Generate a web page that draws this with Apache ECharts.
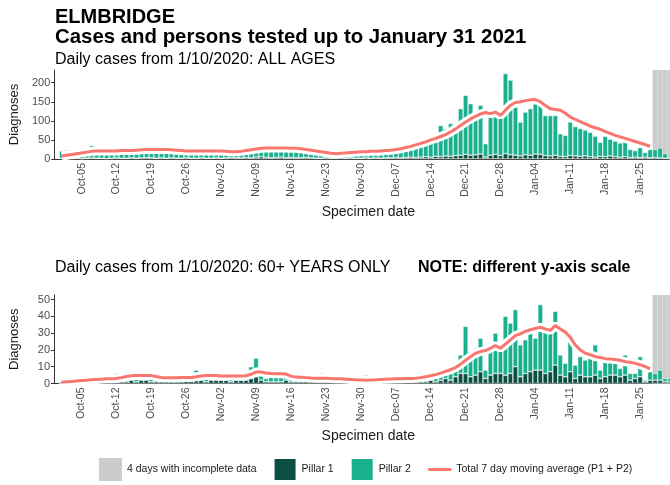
<!DOCTYPE html>
<html>
<head>
<meta charset="utf-8">
<script src="https://cdn.jsdelivr.net/npm/echarts@6/dist/echarts.min.js"></script>
<style>
  html, body { margin: 0; padding: 0; overflow: hidden; background: #fff; }
  #chart { width: 700px; height: 485px; }
</style>
</head>
<body>
<div id="chart"></div>
<script>
// Daily diagnoses by specimen date, Oct 1 2020 – Jan 31 2021 (one value per day)
const allAgesTotal = [
  21, 23, 9, 12, 14, 11, 35, 14, 22, 18,
  20, 24, 22, 17, 26, 24, 28, 27, 25, 30,
  22, 24, 20, 27, 21, 18, 26, 19, 28, 17,
  19, 22, 17, 21, 16, 20, 18, 28, 30, 37,
  26, 30, 27, 40, 28, 32, 24, 25, 30, 18,
  17, 12, 14, 15, 13, 18, 16, 20, 14, 19,
  17, 31, 18, 16, 24, 22, 33, 25, 28, 42,
  38, 46, 44, 52, 60, 62, 88, 79, 93, 90,
  132, 167, 145, 120, 141, 40, 118, 125, 112, 224,
  207, 136, 97, 123, 132, 145, 141, 114, 114, 114,
  66, 62, 97, 85, 80, 76, 70, 60, 44, 60,
  52, 47, 42, 47, 25, 22, 30, 17, 25, 25,
  29, 14, 4
];
const allAgesPillar1 = [
  2, 1, 1, 2, 1, 2, 3, 2, 2, 1,
  2, 3, 2, 2, 3, 2, 3, 4, 3, 2,
  3, 2, 3, 2, 2, 3, 2, 2, 3, 2,
  2, 3, 2, 3, 4, 3, 3, 4, 3, 5,
  6, 4, 3, 4, 5, 3, 4, 3, 3, 4,
  3, 2, 2, 3, 2, 2, 3, 2, 3, 2,
  2, 3, 2, 3, 2, 3, 3, 4, 3, 4,
  5, 4, 5, 6, 5, 7, 6, 8, 7, 9,
  10, 12, 10, 11, 13, 5, 10, 12, 9, 14,
  11, 10, 8, 11, 10, 13, 12, 9, 8, 10,
  7, 6, 9, 8, 7, 8, 6, 5, 7, 6,
  8, 6, 5, 6, 4, 5, 4, 5, 3, 4,
  3, 2, 1
];
// 7 day moving average (Pillar 1 + Pillar 2), Oct 1 – Jan 27
const allAgesAvg = [
  8, 10, 12, 14, 16, 18, 20, 21, 21, 21,
  21, 21, 22, 22, 22, 23, 24, 25, 25, 25,
  25, 25, 24, 23, 22, 21, 21, 21, 21, 21,
  21, 21, 21, 20, 19, 19, 20, 22, 24, 26,
  28, 29, 29, 29, 29, 29, 28, 28, 27, 25,
  23, 21, 19, 17, 15, 14, 15, 16, 17, 18,
  19, 19, 20, 20, 21, 22, 23, 25, 27, 30,
  33, 37, 41, 45, 50, 54, 59, 64, 71, 79,
  88, 97, 105, 112, 118, 122, 119, 123, 114, 128,
  141, 148, 150, 153, 155, 156, 150, 140, 132, 130,
  128, 120, 110, 104, 98, 92, 86, 82, 78, 72,
  67, 62, 58, 54, 50, 46, 42, 38, 33
];

const over60Total = [
  1, 1, 2, 1, 2, 1, 2, 2, 3, 2,
  3, 6, 6, 3, 6, 4, 4, 5, 4, 4,
  6, 3, 3, 6, 3, 3, 4, 8, 4, 3,
  5, 4, 4, 4, 7, 5, 4, 5, 10, 15,
  9, 3, 5, 4, 4, 7, 7, 3, 4, 3,
  3, 3, 6, 3, 3, 2, 3, 3, 2, 2,
  2, 5, 2, 2, 2, 3, 3, 2, 3, 3,
  3, 3, 6, 4, 6, 5, 5, 8, 8, 12,
  17, 34, 19, 21, 27, 8, 20, 30, 23, 40,
  36, 44, 23, 26, 30, 27, 47, 31, 30, 43,
  17, 12, 28, 11, 16, 14, 15, 23, 8, 13,
  13, 13, 9, 17, 6, 6, 16, 2, 7, 6,
  8, 3, 3
];
const over60Pillar1 = [
  0, 0, 1, 0, 1, 0, 1, 1, 1, 1,
  1, 1, 1, 1, 2, 1, 2, 2, 1, 1,
  1, 1, 1, 1, 1, 2, 2, 2, 2, 1,
  2, 2, 2, 2, 1, 2, 2, 2, 3, 4,
  2, 1, 1, 1, 1, 2, 1, 1, 1, 1,
  1, 1, 1, 1, 1, 1, 1, 1, 1, 1,
  1, 1, 1, 1, 1, 1, 1, 1, 1, 1,
  1, 1, 1, 1, 2, 1, 2, 3, 2, 4,
  6, 6, 4, 5, 7, 3, 5, 6, 6, 5,
  6, 10, 4, 6, 7, 8, 8, 6, 7, 11,
  5, 4, 7, 3, 5, 4, 4, 5, 3, 4,
  5, 5, 4, 5, 2, 3, 4, 1, 2, 2,
  2, 1, 1
];
const over60Avg = [
  0.8, 1.0, 1.2, 1.5, 1.8, 2.0, 2.2, 2.4, 2.6, 2.8,
  2.8, 3.0, 3.5, 4.2, 4.6, 4.8, 4.8, 4.8, 4.7, 4.2,
  3.6, 3.4, 3.4, 3.4, 3.5, 3.5, 3.6, 4.0, 4.5, 4.8,
  4.8, 4.7, 4.5, 4.4, 4.4, 4.4, 4.5, 4.6, 5.5, 6.8,
  6.8, 6.3, 5.9, 5.8, 5.8, 5.6, 4.4, 3.8, 3.7, 3.5,
  3.3, 3.2, 3.2, 3.2, 3.0, 2.9, 2.8, 2.6, 2.4, 2.2,
  2.1, 2.0, 2.1, 2.2, 2.4, 2.6, 2.7, 2.8, 2.9, 3.0,
  3.0, 3.1, 3.5, 4.0, 4.6, 5.3, 6.2, 7.2, 8.2, 9.5,
  11.5, 13.8, 16.0, 18.0, 19.0, 19.6, 21.0, 22.6, 21.0, 23.5,
  26.0, 28.5, 29.6, 31.0, 32.0, 32.8, 33.5, 32.5, 31.6, 34.5,
  32.5, 30.6, 27.5, 23.0, 20.0, 18.0, 17.2, 16.0, 15.5, 14.8,
  14.6, 14.3, 13.8, 13.0, 12.6, 12.0, 11.2, 10.0, 8.8
];

const incompleteDays = ['Jan-28', 'Jan-29', 'Jan-30', 'Jan-31'];
const weekTicks = ['Oct-05', 'Oct-12', 'Oct-19', 'Oct-26', 'Nov-02', 'Nov-09', 'Nov-16',
  'Nov-23', 'Nov-30', 'Dec-07', 'Dec-14', 'Dec-21', 'Dec-28', 'Jan-04', 'Jan-11',
  'Jan-18', 'Jan-25', 'Feb-01'];
const allAgesTicks = [0, 50, 100, 150, 200];
const over60Ticks = [0, 10, 20, 30, 40, 50];

// Day axis runs from Sep 30 to Feb 2 so the bars sit inside a little padding
const MONTHS = ['Jan', 'Feb', 'Mar', 'Apr', 'May', 'Jun', 'Jul', 'Aug', 'Sep', 'Oct', 'Nov', 'Dec'];
const days = [];
for (let t = Date.UTC(2020, 8, 30); t <= Date.UTC(2021, 1, 2); t += 86400000) {
  const d = new Date(t);
  days.push(MONTHS[d.getUTCMonth()] + '-' + String(d.getUTCDate()).padStart(2, '0'));
}
const firstIdx = days.indexOf('Oct-01');
function onDays(arr) {
  const out = days.map(() => null);
  arr.forEach((v, i) => { out[firstIdx + i] = v; });
  return out;
}
function minus(a, b) { return a.map((v, i) => v - b[i]); }

const Y_MAX_ALL = 233.3;
const Y_MAX_60 = 52.7;

const C_P1 = '#0b4f42';
const C_P2 = '#19b08e';
const C_GREY = '#cccccc';
const C_AVG = '#f8766d';
const FONT = '"Liberation Sans", Arial, sans-serif';

const showWeek = (i) => weekTicks.includes(days[i]);

function xAxisFor(grid) {
  return {
    type: 'category', gridIndex: grid, data: days, boundaryGap: true,
    axisLine: { lineStyle: { color: '#333', width: 1 } },
    axisTick: { alignWithLabel: true, interval: showWeek, length: 3, lineStyle: { color: '#333' } },
    axisLabel: { interval: showWeek, rotate: 90, fontSize: 10.5, color: '#4d4d4d', margin: 4, fontFamily: FONT },
    splitLine: { show: false },
    name: 'Specimen date', nameLocation: 'middle', nameGap: 46,
    nameTextStyle: { fontSize: 14, color: '#1a1a1a', fontFamily: FONT }
  };
}
function yAxisFor(grid, max, ticks) {
  return {
    type: 'value', gridIndex: grid, min: 0, max: max,
    axisLine: { show: true, lineStyle: { color: '#333', width: 1 } },
    axisTick: { show: true, length: 3, customValues: ticks, lineStyle: { color: '#333' } },
    axisLabel: { customValues: ticks, fontSize: 11, color: '#4d4d4d', margin: 4, fontFamily: FONT },
    splitLine: { show: false },
    name: 'Diagnoses', nameLocation: 'middle', nameRotate: 90, nameGap: 33,
    nameTextStyle: { fontSize: 13, color: '#1a1a1a', fontFamily: FONT }
  };
}
function seriesFor(grid, total, p1, avg, yMax) {
  const barBase = {
    type: 'bar', xAxisIndex: grid, yAxisIndex: grid,
    barGap: '-100%', barCategoryGap: '0%', silent: true
  };
  return [
    Object.assign({}, barBase, {
      name: '4 days with incomplete data',
      data: days.map(d => incompleteDays.includes(d) ? yMax : null),
      itemStyle: { color: C_GREY }
    }),
    Object.assign({}, barBase, {
      name: 'Pillar 1', stack: 'cases' + grid, data: onDays(p1),
      itemStyle: { color: C_P1, borderColor: '#fff', borderWidth: 0.5 }
    }),
    Object.assign({}, barBase, {
      name: 'Pillar 2', stack: 'cases' + grid, data: onDays(minus(total, p1)),
      itemStyle: { color: C_P2, borderColor: '#fff', borderWidth: 0.5 }
    }),
    {
      // white casing under the average line
      type: 'line', xAxisIndex: grid, yAxisIndex: grid, silent: true,
      data: onDays(avg), symbol: 'none', smooth: false,
      lineStyle: { color: '#ffffff', width: 9 }
    },
    {
      name: 'Total 7 day moving average (P1 + P2)',
      type: 'line', xAxisIndex: grid, yAxisIndex: grid, silent: true,
      data: onDays(avg), symbol: 'none', smooth: false,
      itemStyle: { color: C_AVG },
      lineStyle: { color: C_AVG, width: 3 }
    }
  ];
}

const chart = echarts.init(document.getElementById('chart'), null, { renderer: 'canvas' });
chart.setOption({
  animation: false,
  backgroundColor: '#ffffff',
  textStyle: { fontFamily: FONT },
  grid: [
    { left: 52.5, top: 70, width: 630, height: 89 },
    { left: 52.5, top: 295, width: 630, height: 88.5 }
  ],
  xAxis: [xAxisFor(0), xAxisFor(1)],
  yAxis: [yAxisFor(0, Y_MAX_ALL, allAgesTicks), yAxisFor(1, Y_MAX_60, over60Ticks)],
  legend: {
    left: 99, top: 457, padding: 0, itemWidth: 23, itemHeight: 23, itemGap: 16,
    selectedMode: false,
    textStyle: { fontSize: 10.5, color: '#1a1a1a', fontFamily: FONT },
    data: [
      { name: '4 days with incomplete data', icon: 'rect' },
      { name: 'Pillar 1', icon: 'rect' },
      { name: 'Pillar 2', icon: 'rect' },
      { name: 'Total 7 day moving average (P1 + P2)', itemStyle: { opacity: 0 }, lineStyle: { width: 3, color: C_AVG } }
    ]
  },
  graphic: [
    { type: 'text', x: 55, y: 17.5, style: { text: 'ELMBRIDGE', font: 'bold 20px ' + FONT, fill: '#000', verticalAlign: 'middle' } },
    { type: 'text', x: 55, y: 37.5, style: { text: 'Cases and persons tested up to January 31 2021', font: 'bold 20.4px ' + FONT, fill: '#000', verticalAlign: 'middle' } },
    { type: 'text', x: 55, y: 60, style: { text: 'Daily cases from 1/10/2020: ALL AGES', font: '16px ' + FONT, fill: '#000', verticalAlign: 'middle' } },
    { type: 'text', x: 55, y: 268, style: { text: 'Daily cases from 1/10/2020: 60+ YEARS ONLY', font: '16px ' + FONT, fill: '#000', verticalAlign: 'middle' } },
    { type: 'text', x: 418, y: 268, style: { text: 'NOTE: different y-axis scale', font: 'bold 16px ' + FONT, fill: '#000', verticalAlign: 'middle' } }
  ],
  series: [].concat(
    seriesFor(0, allAgesTotal, allAgesPillar1, allAgesAvg, Y_MAX_ALL),
    seriesFor(1, over60Total, over60Pillar1, over60Avg, Y_MAX_60)
  )
});
</script>
</body>
</html>
